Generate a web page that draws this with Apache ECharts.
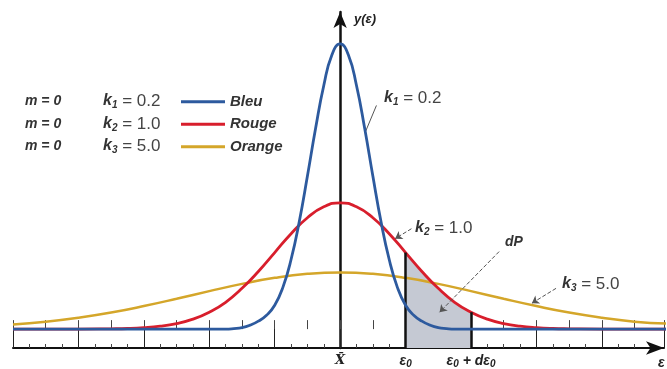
<!DOCTYPE html>
<html><head><meta charset="utf-8">
<script src="https://cdn.jsdelivr.net/npm/echarts@6/dist/echarts.min.js"></script>
<style>html,body{margin:0;padding:0;background:#fff}#c{width:667px;height:369px}</style>
</head><body><div id="c"></div>
<script>
// Blue curve (k1 = 0.2)
const blueX = [-5,-4,-3,-2,-1.75,-1.625,-1.5,-1.375,-1.25,-1.125,-1,-0.875,-0.75,-0.625,-0.5,-0.375,-0.25,-0.125,0,0.125,0.25,0.375,0.5,0.625,0.75,0.875,1,1.125,1.25,1.375,1.5,1.625,1.75,2,3,4,5];
const blueY = [0,0,0,0,0,0.5,1.5,4,8,14,24,42,70,108,154,202,245,276,287,276,245,202,154,108,70,42,24,14,8,4,1.5,0.5,0,0,0,0,0];
// Red curve (k2 = 1.0)
const redX = [-5,-4.5,-4,-3.5,-3.25,-3,-2.75,-2.5,-2.25,-2,-1.75,-1.5,-1.25,-1,-0.75,-0.5,-0.25,0,0.25,0.5,0.75,1,1.25,1.5,1.75,2,2.25,2.5,2.75,3,3.25,3.5,4,4.5,5];
const redY = [0,0,0,0.3,0.6,1.4,2.9,5.6,10,17,27,41,58,77,96,112,123,127,123,112,96,77,58,41,27,17,10,5.6,2.9,1.4,0.6,0.3,0,0,0];
// Orange curve (k3 = 5.0)
const orangeX = [-5,-4.5,-4,-3.5,-3,-2.5,-2,-1.5,-1,-0.5,0,0.5,1,1.5,2,2.5,3,3.5,4,4.5,5];
const orangeY = [4.7,7.5,11.5,16.7,23.2,30.5,38.2,45.5,51.6,55.6,57,55.6,51.6,45.5,38.2,30.5,23.2,16.7,11.5,7.5,5.5];
// Shaded region dP between eps0 and eps0 + d eps0
const shadeX = [1,1.25,1.5,1.75,2];
const shadeY = [77,58,41,27,17];
// Tick labels
const tickValues = [0,1,2];
const tickTexts = ['{x|X\u0304}', '{e|ε}{s|0}', '{e|ε}{s|0}{e| + dε}{s|0}'];
const seriesNames = ['Bleu','Rouge','Orange'];
const seriesColors = ['#2d5a9e','#d81e2c','#d4a62a'];
const kTexts = ['k','k','k'];
const kSubs = ['1','2','3'];
const kValues = ['0.2','1.0','5.0'];

const zip = (xs, ys) => xs.map((x,i)=>[x, ys[i]]);
const chart = echarts.init(document.getElementById('c'));
const FONT = 'Liberation Sans, Arial, sans-serif';
const grid = {left: 13, right: 2, top: 12, bottom: 19};

const kRich = {
  k: {fontStyle:'italic', fontWeight:'bold', fontSize:16, fill:'#333', fontFamily: FONT, lineHeight:18},
  s: {fontStyle:'italic', fontWeight:'bold', fontSize:10, fill:'#333', fontFamily: FONT, lineHeight:18, verticalAlign:'bottom', padding:[8,0,0,0]},
  n: {fontSize:17, fill:'#444', fontFamily: FONT, lineHeight:18}
};
function kLabel(i){ return '{k|' + kTexts[i] + '}{s|' + kSubs[i] + '}{n| = ' + kValues[i] + '}'; }

const graphics = [];
const rowsY = [101, 124, 146];
rowsY.forEach((y, i) => {
  graphics.push({type:'text', x:25, y:y, style:{text:'m = 0', font:'italic bold 14px ' + FONT, fill:'#333', verticalAlign:'middle'}});
  graphics.push({type:'text', x:103, y:y, style:{text:kLabel(i), rich:kRich, verticalAlign:'middle'}});
});
graphics.push({type:'text', x:384, y:98, style:{text:kLabel(0), rich:kRich, verticalAlign:'middle'}});
graphics.push({type:'text', x:415, y:228, style:{text:kLabel(1), rich:kRich, verticalAlign:'middle'}});
graphics.push({type:'text', x:562, y:284, style:{text:kLabel(2), rich:kRich, verticalAlign:'middle'}});
graphics.push({type:'text', x:505, y:242, style:{text:'dP', font:'italic bold 14px ' + FONT, fill:'#333', verticalAlign:'middle'}});
graphics.push({type:'text', x:354, y:19, style:{text:'y(ε)', font:'italic bold 13px ' + FONT, fill:'#222', verticalAlign:'middle'}});
graphics.push({type:'text', x:658, y:363, style:{text:'ε', font:'italic bold 14px ' + FONT, fill:'#222', verticalAlign:'middle'}});

const commonX = {type:'value', min:-5, max:4.95, gridIndex:0, splitLine:{show:false}};
const option = {
  backgroundColor:'#fff',
  animation:false,
  grid: grid,
  legend: {
    data: seriesNames, orient:'vertical', left:181, top:93, padding:0, itemWidth:44, itemHeight:3,
    itemGap:5, icon:'rect', selectedMode:false,
    textStyle:{fontStyle:'italic', fontWeight:'bold', fontSize:15, color:'#333', fontFamily:FONT, lineHeight:17.5}
  },
  xAxis: [
    Object.assign({}, commonX, {
      interval:1, position:'bottom',
      axisLine:{show:true, onZero:false, symbol:['none','arrow'], symbolSize:[10,18], lineStyle:{color:'#111', width:2}},
      axisTick:{show:true, inside:true, length:19, lineStyle:{color:'#222', width:1}},
      minorTick:{show:true, splitNumber:4, length:4, lineStyle:{color:'#444', width:1}},
      axisLabel:{show:true, margin:5, formatter:function(v){ const i = tickValues.indexOf(v); return i >= 0 ? tickTexts[i] : ''; },
        rich:{x:{fontFamily:'DejaVu Serif', fontStyle:'italic', fontWeight:'bold', fontSize:13, color:'#222', lineHeight:16},
              e:{fontFamily:FONT, fontStyle:'italic', fontWeight:'bold', fontSize:14, color:'#222', lineHeight:16},
              s:{fontFamily:FONT, fontStyle:'italic', fontWeight:'bold', fontSize:10, color:'#222', lineHeight:16, verticalAlign:'bottom', padding:[6,0,0,0]}}}
    }),
    Object.assign({}, commonX, {
      interval:0.5, position:'bottom',
      axisLine:{show:false}, axisLabel:{show:false},
      axisTick:{show:true, inside:true, length:9, lineStyle:{color:'#444', width:1}}
    })
  ],
  yAxis: {
    type:'value', min:-19, max:319, splitLine:{show:false}, axisTick:{show:false}, axisLabel:{show:false},
    axisLine:{show:true, onZero:true, symbol:['none','arrow'], symbolSize:[10,16], lineStyle:{color:'#111', width:2.5}}
  },
  graphic: graphics,
  series: [
    {name:'dP', type:'line', data: zip(shadeX, shadeY), smooth:true, showSymbol:false, symbol:'none',
     lineStyle:{width:0}, areaStyle:{color:'#c5c9d3', opacity:1, origin:'start'}, z:1, silent:true,
     markLine:{silent:true, symbol:['none','none'], label:{show:false}, lineStyle:{color:'#111', width:2.5, type:'solid'},
       data:[[{coord:[1,-19]},{coord:[1,77]}],[{coord:[2,-19]},{coord:[2,17]}]]}},
    {name:'Orange', type:'line', data: zip(orangeX, orangeY), smooth:true, showSymbol:false, symbol:'none', clip:false,
     lineStyle:{color:seriesColors[2], width:2.5}, itemStyle:{color:seriesColors[2]}, z:3},
    {name:'Rouge', type:'line', data: zip(redX, redY), smooth:true, showSymbol:false, symbol:'none', clip:false,
     lineStyle:{color:seriesColors[1], width:2.8}, itemStyle:{color:seriesColors[1]}, z:4},
    {name:'Bleu', type:'line', data: zip(blueX, blueY), smooth:true, showSymbol:false, symbol:'none', clip:false,
     lineStyle:{color:seriesColors[0], width:2.8}, itemStyle:{color:seriesColors[0]}, z:5},
    {name:'leaders', type:'line', data:[], z:6,
     markLine:{silent:true, label:{show:false}, symbol:['none','arrow'], symbolSize:7,
       lineStyle:{color:'#555', width:1, type:'dashed'},
       data:[
         [{coord:[0.555,225], symbol:'none'},{coord:[0.39,199], symbol:'none', lineStyle:{type:'solid'}}],
         [{coord:[1.09,101]},{coord:[0.84,91]}],
         [{coord:[2.43,78]},{coord:[1.52,17]}],
         [{coord:[3.30,41]},{coord:[2.93,26]}]
       ]}}
  ]
};
chart.setOption(option);
</script></body></html>
